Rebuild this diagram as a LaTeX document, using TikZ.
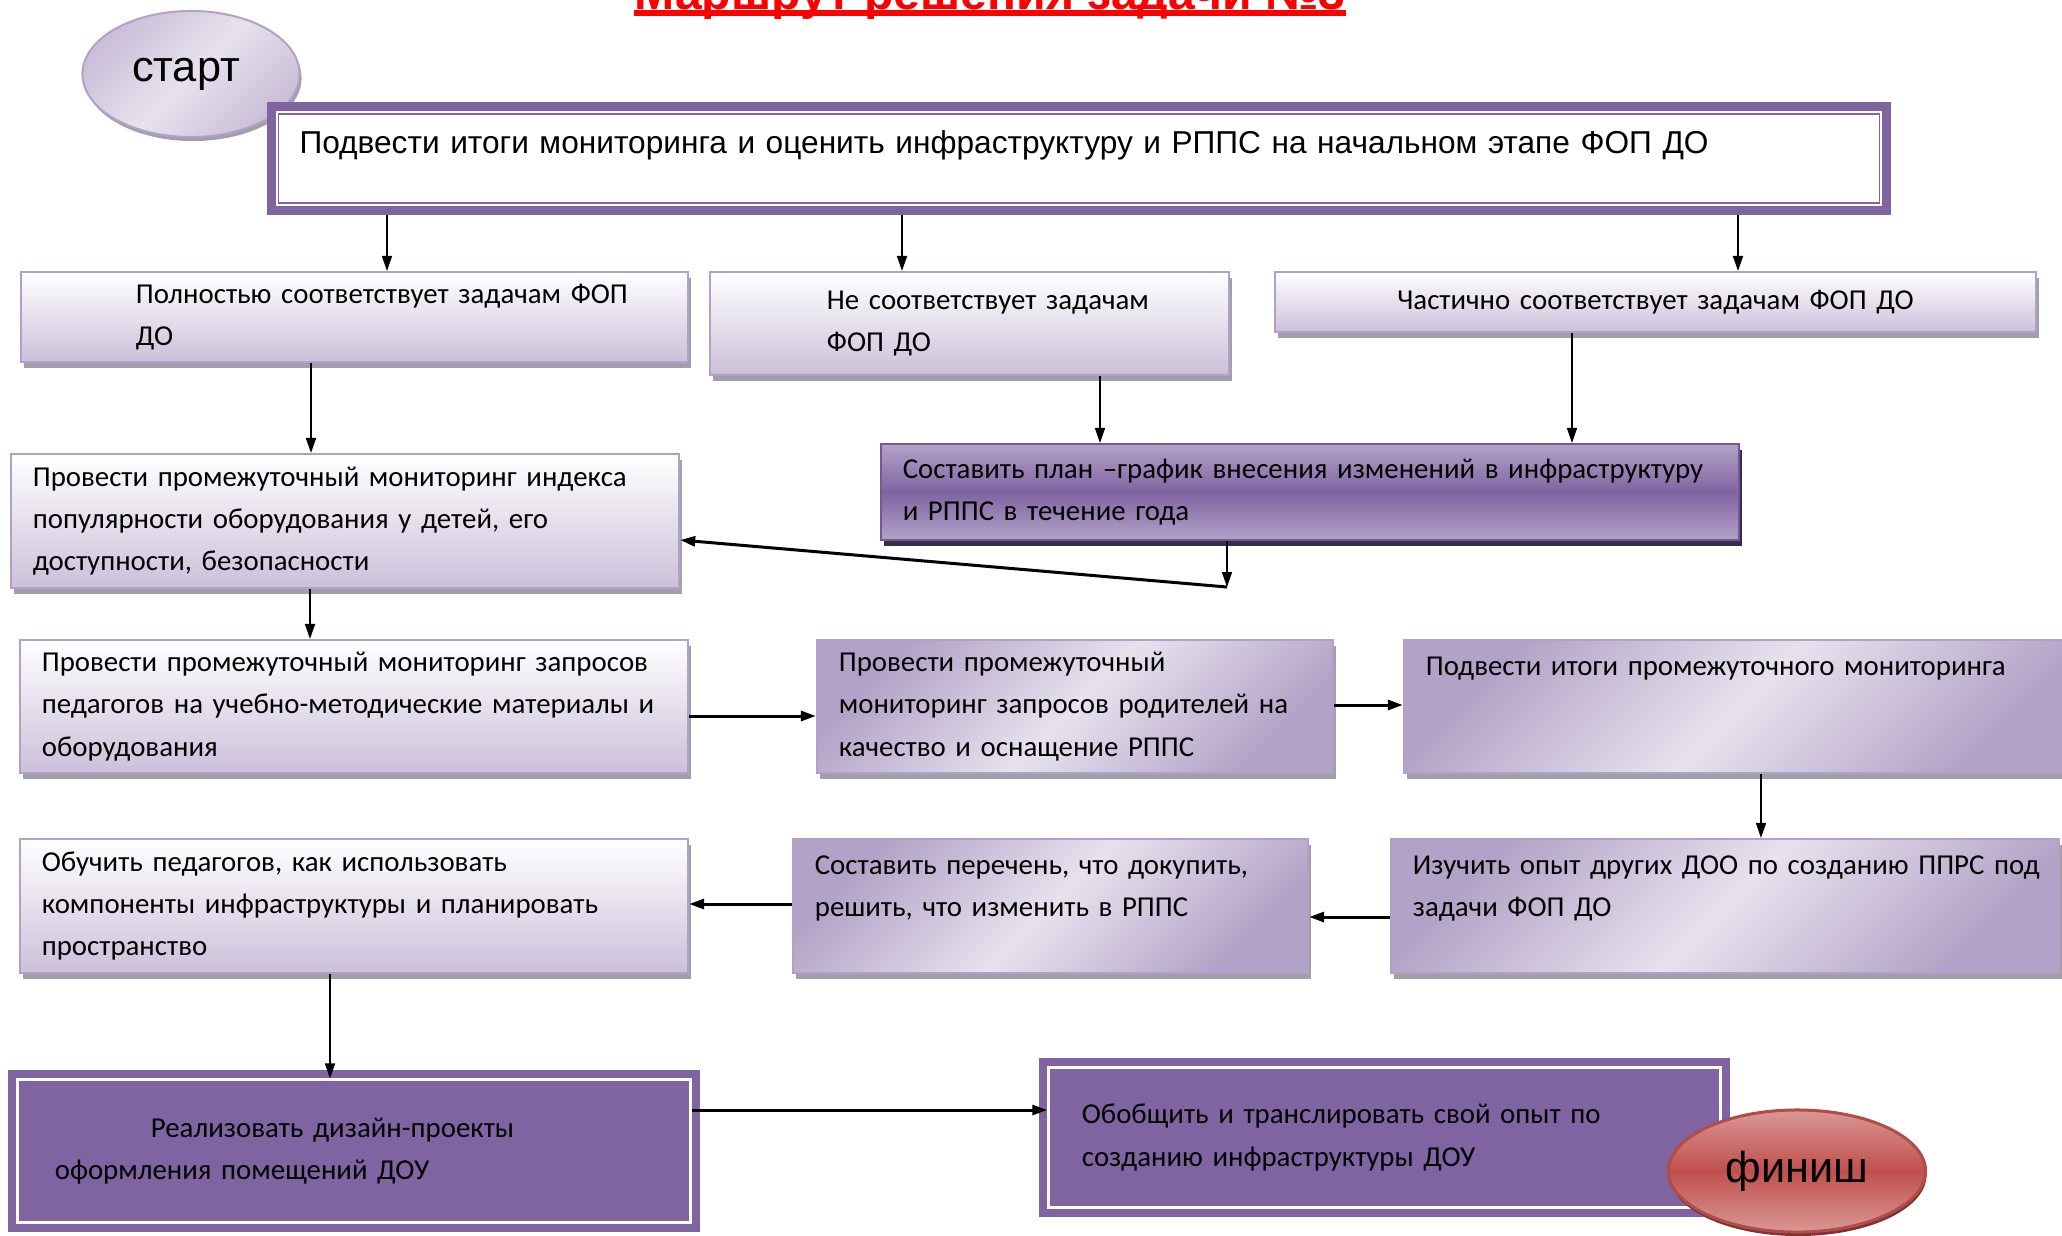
\documentclass[tikz,border=0pt]{standalone}
\usepackage{fontspec}
\setmainfont{Carlito}
\newfontfamily\arialfont{Liberation Sans}
\usetikzlibrary{shapes.geometric,shadows,arrows.meta}

\definecolor{framepurple}{HTML}{8064A2}
\definecolor{boxline}{HTML}{B2A1C7}
\definecolor{boxbottom}{HTML}{CCC0DA}
\definecolor{diagdark}{HTML}{B3A2C7}
\definecolor{diaglight}{HTML}{E7E2EE}
\definecolor{shadowgray}{HTML}{A29EAA}
\definecolor{finishred}{HTML}{C0504D}
\definecolor{finishlight}{HTML}{DA9795}
\definecolor{finishline}{HTML}{B14C49}
\definecolor{finishshadow}{HTML}{7E3432}

\tikzset{
  boxtext/.style={font=\fontsize{8.2}{12}\selectfont, align=left, inner ysep=0pt, inner xsep=0.22cm},
  lightbox/.style={boxtext, draw=boxline, line width=0.2mm, top color=white, bottom color=boxbottom,
    drop shadow={shadow xshift=0.03cm, shadow yshift=-0.06cm, fill=shadowgray, opacity=1}},
  diagbox/.style={lightbox, left color=diagdark, right color=diagdark, middle color=diaglight, shading angle=45},
  planbox/.style={boxtext, draw=framepurple!90!black, line width=0.2mm, top color=diagdark, bottom color=diagdark,
    middle color=framepurple,
    drop shadow={shadow xshift=0.03cm, shadow yshift=-0.06cm, fill=framepurple!45!black, opacity=1}},
  topframe/.style={draw=framepurple, line width=0.15mm, fill=white, outer sep=0.12cm,
    preaction={draw=framepurple, line width=0.24cm}, preaction={draw=white, line width=0.06cm},
    align=left, inner ysep=0pt, inner xsep=0.21cm, font=\arialfont\fontsize{9}{12}\selectfont},
  darkframe/.style={boxtext, draw=white, line width=0.3mm, fill=framepurple,
    preaction={draw=framepurple, line width=0.2cm}},
  endell/.style={ellipse, inner sep=0pt, font=\arialfont\fontsize{12.3}{14}\selectfont},
  arr/.style={-{Triangle[length=1.5mm,width=1mm]}, line width=0.15mm},
  thickarr/.style={arr, line width=0.3mm}
}

\begin{document}
\begin{tikzpicture}[x=0.01cm, y=-0.01cm]
\useasboundingbox (0,0) rectangle (2062,1235);

% title, cut at the top edge
\node[font=\arialfont\bfseries\fontsize{13.7}{16}\selectfont, text=red, inner sep=0pt, anchor=base] (title) at (990,9) {Маршрут решения задачи №3};
\draw[red, line width=0.06cm] ([yshift=-0.04cm]title.base west) -- ([yshift=-0.04cm]title.base east);

\node[endell, minimum width=2.17cm, minimum height=1.26cm, draw=diagdark, line width=0.2mm,
  left color=diagdark!70, right color=diagdark!70, middle color=diaglight, shading angle=45,
  drop shadow={shadow xshift=0.02cm, shadow yshift=-0.04cm, fill=shadowgray, opacity=1}] (start) at (191,74)
  {\raisebox{0.08cm}{старт}\hspace*{0.1cm}};

\node[topframe, minimum width=16cm, minimum height=0.89cm, text width=15.58cm] (top) at (1079,158.5)
  {Подвести итоги мониторинга и оценить инфраструктуру и РППС на начальном этапе ФОП ДО\\[-0.21cm]\strut};

% first row
\node[lightbox, minimum width=6.67cm, minimum height=0.9cm, text width=6.23cm] (full) at (354.5,317)
  {\hspace*{0.93cm}Полностью соответствует задачам ФОП\\\hspace*{0.93cm}ДО};
\node[lightbox, minimum width=5.19cm, minimum height=1.03cm, text width=4.75cm] (notfull) at (969.5,323.5)
  {\hspace*{0.95cm}Не соответствует задачам\\\hspace*{0.95cm}ФОП ДО};
\node[lightbox, align=center, minimum width=7.61cm, minimum height=0.6cm, text width=7.17cm] (part) at (1655.5,302)
  {Частично соответствует задачам ФОП ДО};

% second row
\node[lightbox, minimum width=6.68cm, minimum height=1.34cm, text width=6.24cm] (mon1) at (345,521)
  {Провести промежуточный мониторинг индекса\\популярности оборудования у детей, его\\доступности, безопасности};
\node[planbox, minimum width=8.58cm, minimum height=0.96cm, text width=8.14cm] (plan) at (1310,492)
  {Составить план –график внесения изменений в инфраструктуру\\и РППС в течение года};

% third row
\node[lightbox, minimum width=6.68cm, minimum height=1.33cm, text width=6.24cm] (mon2) at (354,706.5)
  {Провести промежуточный мониторинг запросов\\педагогов на учебно-методические материалы и\\оборудования};
\node[diagbox, minimum width=5.16cm, minimum height=1.33cm, text width=4.72cm] (parents) at (1075,706.5)
  {Провести промежуточный\\мониторинг запросов родителей на\\качество и оснащение РППС};
\node[diagbox, minimum width=6.70cm, minimum height=1.33cm, text width=6.26cm] (results) at (1739,706.5)
  {Подвести итоги промежуточного мониторинга\\[0.26cm]\strut};

% fourth row
\node[diagbox, minimum width=6.68cm, minimum height=1.34cm, text width=6.24cm] (study) at (1725,906)
  {\mbox{Изучить опыт других ДОО по созданию ППРС под}\\задачи ФОП ДО\\[-0.15cm]\strut};
\node[diagbox, minimum width=5.15cm, minimum height=1.34cm, text width=4.71cm] (list) at (1050.5,906)
  {Составить перечень, что докупить,\\решить, что изменить в РППС\\[-0.15cm]\strut};
\node[lightbox, minimum width=6.68cm, minimum height=1.34cm, text width=6.24cm] (train) at (354,906)
  {Обучить педагогов, как использовать\\компоненты инфраструктуры и планировать\\пространство};

% last row
\node[darkframe, minimum width=6.72cm, minimum height=1.42cm, inner xsep=0.37cm, text width=5.98cm] (design) at (354,1151)
  {\hspace*{0.96cm}Реализовать дизайн-проекты\\оформления помещений ДОУ};
\node[darkframe, minimum width=6.71cm, minimum height=1.39cm, inner xsep=0.33cm, text width=6.05cm] (share) at (1384.5,1137.5)
  {Обобщить и транслировать свой опыт по\\созданию инфраструктуры ДОУ};
\node[endell, minimum width=2.57cm, minimum height=1.22cm, draw=finishline, line width=0.3mm,
  top color=finishlight, bottom color=finishlight, middle color=finishred,
  drop shadow={shadow xshift=0.01cm, shadow yshift=-0.04cm, fill=finishshadow, opacity=1}] (finish) at (1797,1171) {финиш};

% arrows
\draw[arr] (387,0 |- top.south) -- (387,0 |- full.north);
\draw[arr] (902,0 |- top.south) -- (902,0 |- notfull.north);
\draw[arr] (1738,0 |- top.south) -- (1738,0 |- part.north);
\draw[arr] (311,0 |- full.south) -- (311,0 |- mon1.north);
\draw[arr] (1100,0 |- notfull.south) -- (1100,0 |- plan.north);
\draw[arr] (1572,0 |- part.south) -- (1572,0 |- plan.north);
\coordinate (bend) at (1227,587);
\draw[arr] (bend |- plan.south) -- (bend);
\draw[thickarr] (bend) -- (mon1.east |- 0,540);
\draw[arr] (310,0 |- mon1.south) -- (310,0 |- mon2.north);
\draw[thickarr] (mon2.east |- 0,716) -- (parents.west |- 0,716);
\draw[thickarr] (parents.east |- 0,705) -- (results.west |- 0,705);
\draw[arr] (1761,0 |- results.south) -- (1761,0 |- study.north);
\draw[thickarr] (study.west |- 0,917) -- (list.east |- 0,917);
\draw[thickarr] (list.west |- 0,904) -- (train.east |- 0,904);
\draw[arr] (330,0 |- train.south) -- (330,0 |- design.north);
\draw[thickarr] (design.east |- 0,1110) -- (share.west |- 0,1110);
\end{tikzpicture}
\end{document}
